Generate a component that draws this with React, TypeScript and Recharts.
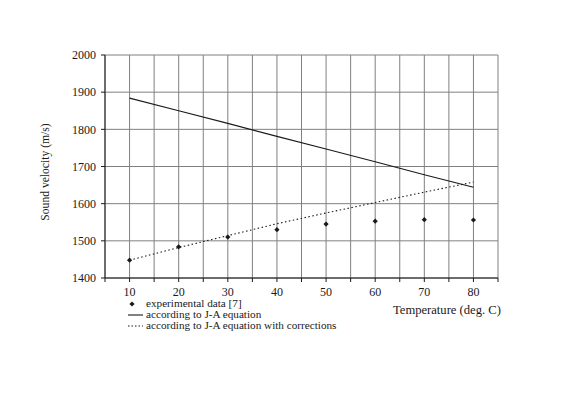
import { CartesianGrid, ComposedChart, Line, XAxis, YAxis } from "recharts"

// Sound velocity vs temperature: measured points against the J-A equation,
// with and without corrections. Values read off the reference figure.

const temperatures = [10, 20, 30, 40, 50, 60, 70, 80]
const experimental = [1448, 1484, 1510, 1530, 1545, 1553, 1557, 1556]
const jaEquation = [1884, 1850, 1816, 1781, 1747, 1713, 1678, 1644]
const jaCorrected = [1448, 1482, 1514, 1546, 1575, 1603, 1631, 1658]

const xTicks = [5, 10, 15, 20, 25, 30, 35, 40, 45, 50, 55, 60, 65, 70, 75, 80, 85]
const yTicks = [1400, 1500, 1600, 1700, 1800, 1900, 2000]

const FONT = "'Liberation Serif', 'Times New Roman', serif"
const INK = "#1a1a1a"

const rows = temperatures.map((t, i) => ({
  t,
  exp: experimental[i],
  ja: jaEquation[i],
  jac: jaCorrected[i],
}))

function Diamond(props: { cx?: number; cy?: number }) {
  const { cx, cy } = props
  if (cx == null || cy == null) return null
  const r = 2.6
  return (
    <polygon
      points={`${cx},${cy - r} ${cx + r},${cy} ${cx},${cy + r} ${cx - r},${cy}`}
      fill={INK}
    />
  )
}

function YTitle() {
  return (
    <text
      x={45}
      y={172}
      transform="rotate(-90 45 172)"
      textAnchor="middle"
      dominantBaseline="central"
      fill={INK}
      fontFamily={FONT}
      fontSize={11.6}
    >
      Sound velocity (m/s)
    </text>
  )
}

function LegendBlock() {
  const row = { display: "flex", alignItems: "center", height: 11 }
  const text = { marginLeft: 3, whiteSpace: "nowrap" as const }
  return (
    <div
      style={{
        position: "absolute",
        left: 128,
        top: 298,
        fontFamily: FONT,
        fontSize: 11.2,
        color: INK,
        lineHeight: "11px",
      }}
    >
      <div style={row}>
        <svg width={15} height={8}>
          <polygon points="4,1.4 6.6,4 4,6.6 1.4,4" fill={INK} />
        </svg>
        <span style={text}>experimental data [7]</span>
      </div>
      <div style={row}>
        <svg width={15} height={8}>
          <line x1={0} y1={4} x2={15} y2={4} stroke={INK} strokeWidth={1.1} />
        </svg>
        <span style={text}>according to J-A equation</span>
      </div>
      <div style={row}>
        <svg width={15} height={8}>
          <line
            x1={0}
            y1={4}
            x2={15}
            y2={4}
            stroke={INK}
            strokeWidth={1.1}
            strokeDasharray="1.5 2"
          />
        </svg>
        <span style={text}>according to J-A equation with corrections</span>
      </div>
    </div>
  )
}

export default function App() {
  return (
    <div
      style={{
        position: "absolute",
        left: 0,
        top: 0,
        width: 566,
        height: 395,
        background: "#fff",
      }}
    >
      <ComposedChart
        width={566}
        height={395}
        data={rows}
        margin={{ top: 55, right: 68, bottom: 87, left: 0 }}
      >
        <CartesianGrid stroke="#808080" strokeWidth={1} />
        <XAxis
          dataKey="t"
          type="number"
          domain={[5, 85]}
          ticks={xTicks}
          interval={0}
          height={30}
          tickFormatter={(v: number) => (v % 10 === 0 && v >= 10 && v <= 80 ? String(v) : "")}
          stroke={INK}
          tickSize={4}
          tickMargin={5}
          tick={{ fill: INK, fontFamily: FONT, fontSize: 12 }}
        />
        <YAxis
          type="number"
          domain={[1400, 2000]}
          ticks={yTicks}
          interval={0}
          stroke={INK}
          tickSize={4}
          tickMargin={5}
          width={105}
          tick={{ fill: INK, fontFamily: FONT, fontSize: 12 }}
          label={{ content: () => <YTitle /> }}
        />
        <Line
          dataKey="ja"
          type="linear"
          stroke={INK}
          strokeWidth={1.1}
          dot={false}
          isAnimationActive={false}
        />
        <Line
          dataKey="jac"
          type="linear"
          stroke={INK}
          strokeWidth={1.1}
          strokeDasharray="1.5 2.5"
          dot={false}
          isAnimationActive={false}
        />
        <Line
          dataKey="exp"
          type="linear"
          stroke="none"
          dot={<Diamond />}
          activeDot={false}
          isAnimationActive={false}
        />
      </ComposedChart>
      <div
        style={{
          position: "absolute",
          left: 393,
          top: 303,
          fontFamily: FONT,
          fontSize: 12.6,
          color: INK,
          whiteSpace: "nowrap",
        }}
      >
        Temperature (deg. C)
      </div>
      <LegendBlock />
    </div>
  )
}
